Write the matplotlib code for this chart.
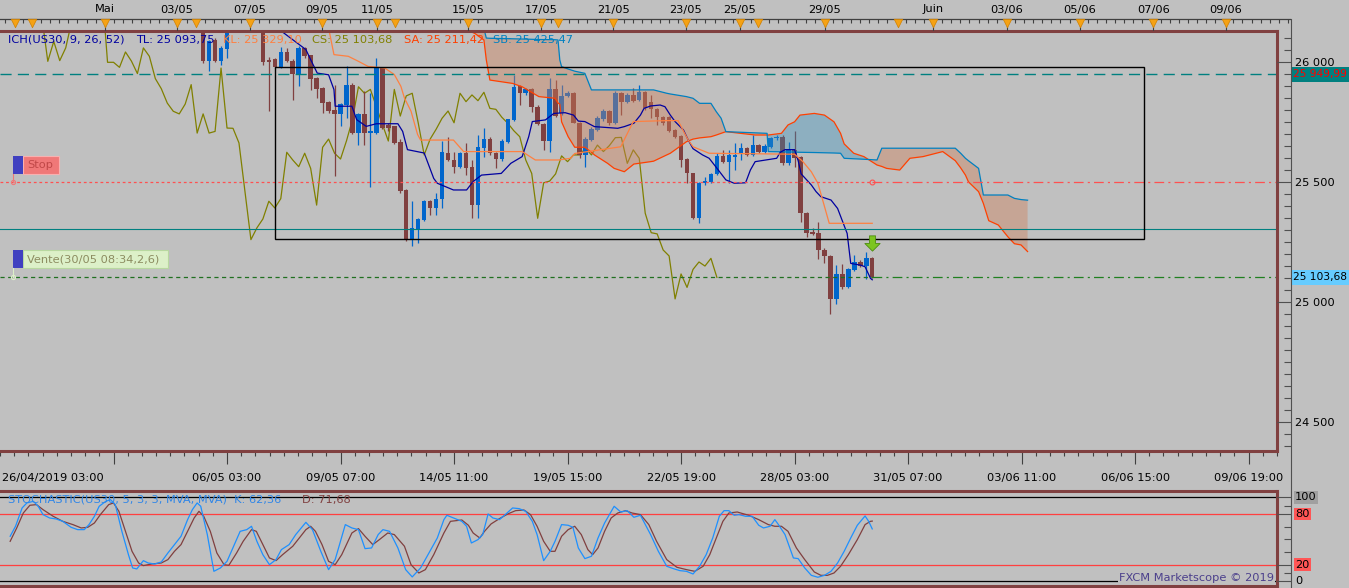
import numpy as np
import matplotlib.pyplot as plt
import matplotlib.transforms as mtransforms
from matplotlib.lines import Line2D
from matplotlib.patches import Rectangle
from matplotlib.path import Path

plt.rcParams['font.family'] = ['DejaVu Sans']
plt.rcParams['lines.scale_dashes'] = False

# US30, 4 hour candles. bar 0 = 06/05 03:00
first_bar = -5
opens = [26240, 26190, 26004, 26094, 26007, 26057, 26170, 26270, 26330, 26310,
         26390, 26330, 26010, 26014, 25979, 26045, 26007, 25953, 26060, 26029,
         25935, 25893, 25835, 25803, 25785, 25824, 25907, 25705, 25785, 25705,
         25705, 25976, 25740, 25733, 25668, 25467, 25261, 25305, 25344, 25421,
         25393, 25429, 25623, 25593, 25565, 25623, 25565, 25405, 25642, 25680,
         25621, 25597, 25669, 25760, 25901, 25871, 25887, 25815, 25742, 25672,
         25887, 25787, 25861, 25871, 25748, 25614, 25676, 25718, 25762, 25797,
         25748, 25871, 25836, 25864, 25843, 25876, 25836, 25804, 25773, 25771,
         25718, 25693, 25596, 25537, 25350, 25498, 25503, 25535, 25610, 25586,
         25605, 25621, 25642, 25614, 25655, 25628, 25648, 25683, 25687, 25579,
         25635, 25604, 25373, 25293, 25287, 25218, 25193, 25014, 25118, 25062,
         25135, 25168, 25151, 25183]
highs = [26260, 26200, 26092, 26102, 26070, 26190, 26290, 26350, 26380, 26420,
         26410, 26340, 26021, 26018, 26062, 26060, 26012, 26067, 26065, 26032,
         25940, 25895, 25840, 25907, 25830, 25983, 25915, 25790, 25879, 25872,
         26018, 25980, 25745, 25735, 25680, 25470, 25421, 25350, 25425, 25425,
         25455, 25671, 25690, 25628, 25625, 25662, 25593, 25697, 25725, 25690,
         25625, 25680, 25765, 25947, 25905, 25892, 25892, 25820, 25745, 25933,
         25926, 25905, 25880, 25875, 25752, 25690, 25730, 25775, 25805, 25802,
         25880, 25878, 25870, 25891, 25905, 25880, 25864, 25810, 25778, 25775,
         25722, 25698, 25600, 25540, 25503, 25523, 25540, 25621, 25635, 25635,
         25662, 25662, 25648, 25697, 25660, 25658, 25690, 25697, 25697, 25669,
         25715, 25610, 25378, 25308, 25336, 25225, 25198, 25155, 25160, 25142,
         25197, 25175, 25211, 25190]
lows = [26170, 25995, 25962, 26000, 25990, 26018, 26160, 26240, 26280, 26300,
        26300, 25990, 25796, 25975, 25975, 26000, 25844, 25900, 26020, 25886,
        25851, 25789, 25790, 25525, 25733, 25768, 25700, 25657, 25657, 25479,
        25700, 25720, 25715, 25660, 25455, 25255, 25233, 25247, 25340, 25365,
        25365, 25391, 25590, 25537, 25560, 25530, 25350, 25350, 25607, 25615,
        25558, 25590, 25665, 25755, 25822, 25865, 25794, 25738, 25635, 25628,
        25770, 25780, 25855, 25745, 25600, 25565, 25670, 25712, 25755, 25740,
        25742, 25780, 25830, 25835, 25838, 25800, 25766, 25739, 25740, 25710,
        25685, 25565, 25496, 25345, 25329, 25490, 25498, 25530, 25580, 25496,
        25551, 25593, 25608, 25610, 25622, 25622, 25642, 25678, 25573, 25574,
        25565, 25336, 25271, 25280, 25179, 25162, 24950, 24993, 25055, 25058,
        25130, 25145, 25096, 25100]
closes = [26190, 26004, 26087, 26007, 26060, 26170, 26270, 26330, 26310, 26390,
          26330, 26000, 26000, 25979, 26043, 26005, 25953, 26060, 26025, 25932,
          25890, 25830, 25796, 25785, 25826, 25907, 25705, 25785, 25705, 25712,
          25976, 25726, 25725, 25664, 25462, 25261, 25310, 25347, 25421, 25393,
          25432, 25625, 25593, 25565, 25621, 25558, 25405, 25646, 25680, 25621,
          25597, 25673, 25762, 25898, 25871, 25887, 25815, 25742, 25672, 25887,
          25776, 25860, 25871, 25748, 25614, 25680, 25721, 25767, 25797, 25748,
          25871, 25836, 25864, 25840, 25875, 25808, 25804, 25771, 25746, 25715,
          25690, 25593, 25537, 25350, 25498, 25505, 25535, 25610, 25586, 25614,
          25614, 25642, 25614, 25655, 25628, 25653, 25686, 25687, 25579, 25635,
          25600, 25371, 25290, 25285, 25218, 25193, 25014, 25118, 25062, 25137,
          25168, 25151, 25183, 25103.68]

# Ichimoku lines (bar, price)
tenkan_bar = [8, 9.3, 13.2, 14, 15.1, 17, 17.9, 18.1, 20.9, 21.7, 23.3, 25, 28.6, 29.4,
              30.2, 33, 34.6, 35.2, 37.9, 40.1, 41.2, 42.6, 45.9, 47.5, 49.4, 50.5,
              51.1, 53.3, 54.7, 56.6, 58, 58.8, 59.9, 61.5, 65.4, 66.5, 68.1, 69.2,
              69.8, 70.9, 72.5, 73.3, 74.2, 75, 76.4, 77.2, 78, 79.6, 80.7, 81.8,
              83.5, 84.9, 86.8, 87.6, 88.4, 92, 92.6, 93.4, 95, 95.6, 96.1, 97.8,
              98.6, 99.4, 101.1, 102.2, 103.8, 104.4, 106, 106.8, 107.7, 108]
tenkan_val = [26160, 26126, 26053, 26011, 25955, 25948, 25886, 25817, 25817, 25761,
              25733, 25744, 25744, 25712, 25636, 25622, 25516, 25496, 25468, 25468,
              25503, 25530, 25537, 25579, 25607, 25690, 25753, 25760, 25787, 25790,
              25780, 25755, 25753, 25732, 25725, 25732, 25746, 25780, 25808, 25818,
              25822, 25815, 25780, 25753, 25718, 25676, 25640, 25614, 25600, 25565,
              25510, 25496, 25498, 25551, 25586, 25600, 25625, 25636, 25636, 25590,
              25535, 25489, 25461, 25440, 25426, 25391, 25287, 25162, 25155, 25148,
              25100, 25093.75]
kijun_bar = [16, 17, 17.9, 20.3, 22, 23.6, 26.4, 28, 29.1, 29.7, 30.8, 31.9, 32.4,
             37.9, 39.6, 49.4, 51.6, 55.5, 57.5, 58.2, 65.9, 68, 73.6, 75.5, 76.3,
             77.2, 78, 80.7, 95, 96.4, 97.8, 98.9, 99.7, 100.8, 108]
kijun_val = [26170, 26143, 26032, 26025, 26004, 25983, 25976, 25949, 25900, 25851,
             25796, 25699, 25676, 25676, 25628, 25628, 25593, 25593, 25600, 25620,
             25648, 25753, 25757, 25757, 25718, 25676, 25648, 25621, 25617, 25586,
             25544, 25496, 25426, 25329.10, 25329.10]
cloud_bar = [38, 41.5, 43.0, 43.4, 44.0, 47.8, 49.4, 52.2, 54.9, 55.4,
             55.7, 56.0, 57.1, 58.2, 59.9, 61.0, 61.5, 63.7, 64.8, 66.5,
             68.1, 70.9, 71.4, 73.6, 74.2, 76.9, 78.0, 79.1, 81.0, 81.9,
             82.7, 83.5, 88.4, 90.4, 90.6, 92.8, 93.9, 95.0, 95.9, 98.3,
             100.0, 101.6, 102.7, 103.3, 104.9, 106.6, 108.8, 109.6, 110.4, 112.6,
             114.3, 116.5, 119.8, 121.9, 122.8, 123.6, 124.1, 125.8, 126.6, 127.5,
             129.1, 130.7, 131.8, 132.9, 134.0]
senkou_a = [26160, 26120, 26093, 26010, 25926, 25912, 25898, 25857, 25850, 25830,
            25826, 25752, 25690, 25646, 25646, 25625, 25614, 25579, 25558, 25544,
            25576, 25586, 25588, 25614, 25621, 25669, 25680, 25685, 25690, 25697,
            25704, 25711, 25697, 25697, 25697, 25704, 25739, 25752, 25780, 25787,
            25780, 25752, 25704, 25660, 25621, 25607, 25572, 25566, 25558, 25551,
            25600, 25607, 25628, 25590, 25560, 25530, 25502, 25461, 25412, 25340,
            25322, 25273, 25244, 25239, 25211.42]
senkou_b = [26200, 26180, 26140, 26101, 26100, 26098, 26097, 26095, 26094, 26093,
            26010, 25982, 25972, 25963, 25954, 25885, 25885, 25885, 25885, 25885,
            25885, 25885, 25885, 25871, 25868, 25857, 25850, 25829, 25829, 25794,
            25767, 25711, 25706, 25704, 25628, 25627, 25626, 25626, 25625, 25624,
            25623, 25622, 25621, 25600, 25598, 25596, 25593, 25642, 25642, 25642,
            25642, 25642, 25642, 25642, 25621, 25600, 25590, 25558, 25447, 25447,
            25447, 25447, 25433, 25428, 25425.47]

# Stochastic (5, 3, 3) (bar, value)
k_bar = [-36.3, -35.4, -34.3, -33.5, -32.4, -31.6, -30.8, -29.7, -28.6, -27.5,
         -26.1, -25.0, -23.9, -23.1, -22.2, -21.4, -20.3, -19.5, -18.7, -17.6,
         -16.5, -15.8, -15.1, -14.0, -13.2, -12.1, -11.0, -9.9, -8.8, -7.7,
         -6.6, -5.8, -5.0, -4.4, -3.3, -2.2, -1.1, 0.0, 1.1, 2.2,
         3.3, 4.1, 5.0, 6.0, 7.1, 8.2, 9.1, 10.4, 11.5, 13.2,
         14.3, 15.7, 17.0, 18.1, 19.8, 20.9, 22.0, 23.1, 24.2, 25.3,
         26.1, 27.2, 28.6, 29.9, 31.0, 32.4, 33.8, 35.2, 36.3, 36.8,
         37.9, 39.3, 40.1, 40.9, 42.0, 42.8, 43.7, 44.5, 45.6, 46.7,
         47.8, 48.9, 50.0, 51.1, 51.9, 53.0, 54.1, 54.9, 56.0, 57.1,
         57.9, 58.8, 59.9, 61.0, 62.1, 63.2, 64.8, 65.9, 67.0, 68.1,
         69.2, 70.9, 72.2, 73.6, 74.7, 75.8, 76.9, 78.0, 79.1, 80.2,
         81.3, 82.4, 83.2, 84.0, 84.9, 85.7, 86.8, 87.9, 89.0, 89.8,
         90.9, 91.7, 92.3, 93.4, 94.8, 95.6, 96.7, 97.8, 98.9, 100.0,
         101.1, 102.2, 103.3, 104.4, 105.5, 106.6, 106.8, 107.4, 108.0]
k_val = [53.6, 65.5, 87.3, 93.3, 95.2, 89.3, 79.4, 75.4, 74.2, 71.4,
         64.3, 61.5, 61.5, 67.5, 77.4, 89.3, 95.2, 97.2, 91.3, 59.5,
         31.7, 15.9, 14.7, 24.6, 21.8, 20.6, 23.0, 33.7, 43.7, 53.6,
         73.4, 85.3, 93.3, 89.3, 55.6, 11.9, 15.9, 23.8, 41.7, 59.5,
         61.5, 65.5, 47.6, 31.7, 19.8, 25.8, 37.7, 43.7, 55.6, 70.2,
         61.5, 35.7, 13.9, 25.8, 67.5, 63.5, 61.5, 38.9, 39.7, 55.6,
         61.5, 59.5, 39.7, 13.9, 5.2, 15.9, 33.7, 51.6, 73.4, 78.6,
         75.4, 71.4, 65.5, 45.6, 49.6, 55.6, 80.2, 75.4, 73.4, 80.2,
         87.3, 86.5, 83.3, 71.4, 55.6, 24.6, 35.7, 47.6, 67.5, 66.7,
         64.3, 39.7, 27.0, 29.8, 51.6, 69.4, 89.3, 82.5, 84.1, 76.2,
         78.6, 55.6, 35.7, 17.9, 15.1, 12.7, 11.9, 8.7, 17.9, 31.7,
         51.6, 77.4, 84.1, 84.1, 78.6, 79.4, 77.4, 77.4, 66.7, 63.5,
         65.5, 73.4, 67.5, 55.6, 27.8, 27.0, 15.9, 7.1, 4.8, 7.1,
         11.9, 21.8, 35.7, 51.6, 66.7, 76.2, 77.8, 71.4, 62.36]
d_bar = [-36.3, -35.2, -34.1, -33.0, -31.9, -30.8, -29.1, -27.5, -25.8, -24.4,
         -23.3, -22.2, -21.2, -19.8, -19.0, -18.1, -17.0, -15.9, -14.8, -14.0,
         -12.6, -11.0, -9.9, -8.8, -7.7, -6.6, -5.5, -4.7, -3.9, -2.8,
         -1.7, -0.5, 0.3, 1.6, 2.7, 4.1, 4.9, 6.0, 7.1, 8.2,
         9.3, 11.0, 12.1, 13.2, 14.0, 14.8, 15.9, 17.0, 18.1, 19.2,
         20.9, 22.0, 23.1, 24.4, 25.5, 26.9, 28.0, 29.7, 30.8, 32.1,
         33.2, 34.6, 36.3, 37.4, 39.3, 40.4, 41.2, 42.3, 43.1, 44.2,
         45.6, 47.0, 48.3, 49.7, 50.8, 51.9, 53.0, 54.1, 54.9, 56.0,
         57.1, 58.2, 59.3, 60.4, 61.2, 62.1, 63.2, 64.3, 65.4, 66.7,
         67.8, 69.2, 70.6, 71.9, 73.6, 75.3, 76.9, 78.3, 79.7, 80.8,
         81.9, 83.0, 84.0, 85.4, 87.3, 89.0, 90.6, 91.7, 92.8, 93.9,
         95.3, 96.7, 98.3, 99.4, 100.5, 101.6, 102.7, 104.0, 105.5, 106.8,
         107.7, 108.0]
d_val = [47.6, 63.5, 81.3, 90.5, 91.3, 85.3, 77.4, 71.4, 67.5, 63.5,
         64.3, 69.4, 79.4, 91.3, 93.3, 83.3, 59.5, 35.7, 21.8, 18.7,
         20.6, 21.8, 25.8, 35.7, 43.7, 59.5, 75.4, 83.3, 77.4, 59.5,
         33.7, 19.8, 19.0, 33.7, 47.6, 61.5, 59.5, 43.7, 27.8, 24.6,
         31.7, 41.7, 51.6, 61.5, 65.5, 59.5, 43.7, 23.8, 19.8, 31.7,
         57.5, 62.7, 53.6, 43.7, 49.6, 57.5, 55.6, 41.7, 19.8, 9.9,
         13.9, 31.7, 57.5, 71.4, 73.0, 66.7, 57.5, 51.6, 59.5, 68.3,
         74.6, 80.2, 84.1, 84.9, 79.4, 65.5, 47.6, 35.7, 35.7, 53.6,
         61.5, 65.5, 55.6, 37.7, 31.7, 39.7, 59.5, 75.4, 81.3, 84.1,
         81.3, 79.4, 67.5, 47.6, 25.8, 16.7, 13.9, 11.9, 17.9, 31.7,
         51.6, 71.4, 81.3, 82.5, 78.6, 73.4, 67.5, 65.5, 65.5, 59.5,
         39.7, 25.8, 11.1, 7.1, 7.1, 9.9, 17.9, 31.7, 49.6, 67.5,
         71.4, 71.68]

# horizontal levels and the drawn box
limit_level = 25949.99
stop_level = 25500
entry_level = 25103.68
support_level = 25304
box_bars = [8, 153.5]
box_prices = [25262, 25979]

# time axes
time_ticks = [-19, 0, 19, 38, 57, 76, 95, 114, 133, 152, 171]
time_labels = ['', '06/05 03:00', '09/05 07:00', '14/05 11:00', '19/05 15:00',
               '22/05 19:00', '28/05 03:00', '31/05 07:00', '03/06 11:00',
               '06/06 15:00', '09/06 19:00']
day_bar = [-19.0, -7.1, 4.9, 16.8, 25.9, 40.9, 52.9, 64.8, 76.8, 85.7, 99.7,
           117.5, 129.7, 141.7, 153.8, 165.8]
day_labels = ['Mai', '03/05', '07/05', '09/05', '11/05', '15/05', '17/05', '21/05',
              '23/05', '25/05', '29/05', 'Juin', '03/06', '05/06', '07/06', '09/06']
event_bar = [-33.8, -31.0, -19.0, -7.1, -4.0, 4.9, 16.8, 25.9, 28.8, 40.9, 52.9,
             55.7, 64.8, 76.8, 85.7, 88.7, 99.7, 111.7, 117.5, 129.7, 141.7,
             153.8, 165.8]
price_ticks = [24500, 25000, 25500, 26000]


def fmt(v, d=2):
    return f"{v:,.{d}f}".replace(',', ' ').replace('.', ',')


W, H = 1349, 588
fig = plt.figure(figsize=(W / 100, H / 100), dpi=100)
fig.patch.set_facecolor('#c0c0c0')
px = mtransforms.Affine2D().scale(1 / W, -1 / H).translate(0, 1) + fig.transFigure

X0, BW = 220.0, 6.068      # pixel of bar 0, pixels per bar
PY0, PPX = 62.3, 4.167     # pixel of 26 000, points per pixel


def bar_at(x):
    return (x - X0) / BW


def price_at(y):
    return 26000 - (y - PY0) * PPX


def y_of(price):
    return PY0 + (26000 - price) / PPX


def stoch_at(y):
    return (581.3 - y) / 0.84


def panel(l, t, r, b):
    a = fig.add_axes([l / W, 1 - b / H, (r - l) / W, (b - t) / H])
    a.patch.set_visible(False)
    return a


BROWN = '#804040'
BLUE = '#0066cc'

# ---------------- main price panel ----------------
ax = panel(0, 31, 1277, 451)
ax.set_xlim(bar_at(0), bar_at(1277))
ax.set_ylim(price_at(451), price_at(31))
for s in ax.spines.values():
    s.set_color(BROWN)
    s.set_linewidth(2.2)
    s.set_zorder(10)
ax.spines['left'].set_visible(False)
ax.tick_params(axis='y', left=False, labelleft=False)
ax.set_xticks(time_ticks)
ax.set_xticklabels(time_labels, fontsize=8.2)
ax.set_xticks(np.arange(time_ticks[0] - 19, 176, 19 / 8), minor=True)
ax.tick_params(axis='x', which='major', length=9, width=0.8, color='#404040', pad=7)
ax.tick_params(axis='x', which='minor', length=3.5, width=0.8, color='#404040')

bars = np.arange(first_bar, first_bar + len(closes))
o, h, l, c = (np.array(v, dtype=float) for v in (opens, highs, lows, closes))
col = np.where(c >= o, BLUE, BROWN)
ax.vlines(bars, l, h, colors=col, lw=0.9, zorder=3)
ax.bar(bars, np.maximum(np.abs(c - o), 3), bottom=np.minimum(o, c), width=0.75,
       color=col, lw=0, zorder=3)

# chikou span = close shifted back 26 bars
ax.plot(bars - 26, c, color='#808000', lw=0.9, zorder=2)

sa = np.array(senkou_a)
sb = np.array(senkou_b)
ax.fill_between(cloud_bar, sa, sb, where=sa >= sb, interpolate=True,
                color='#3090c0', alpha=0.35, lw=0, zorder=4)
ax.fill_between(cloud_bar, sa, sb, where=sa < sb, interpolate=True,
                color='#d0805a', alpha=0.42, lw=0, zorder=4)
ax.plot(cloud_bar, sa, color='#ff4000', lw=0.9, zorder=5)
ax.plot(cloud_bar, sb, color='#0080c0', lw=0.9, zorder=5)
ax.plot(tenkan_bar, tenkan_val, color='#0000a0', lw=0.9, zorder=5)
ax.plot(kijun_bar, kijun_val, color='#ff8040', lw=0.9, zorder=5)

xl = ax.get_xlim()
last = bars[-1]
ax.plot(xl, [limit_level] * 2, color='#008080', lw=1, dashes=(8, 4.5), zorder=6)
ax.plot(xl, [support_level] * 2, color='#008080', lw=0.8, zorder=6)
ax.plot([xl[0], last], [stop_level] * 2, color='#ff5050', lw=0.9, dashes=(2, 2), zorder=6)
ax.plot([last, xl[1]], [stop_level] * 2, color='#ff5050', lw=0.9,
        dashes=(7, 3, 1.5, 3), zorder=6)
ax.plot([last], [stop_level], 'o', ms=3.5, mfc='none', mec='#ff5050', mew=0.8, zorder=6)
ax.plot([xl[0], last], [entry_level] * 2, color='#207020', lw=0.9, dashes=(3, 2.5), zorder=6)
ax.plot([last, xl[1]], [entry_level] * 2, color='#208020', lw=0.9,
        dashes=(7, 3, 1.5, 3), zorder=6)
ax.add_patch(Rectangle((box_bars[0], box_prices[0]), box_bars[1] - box_bars[0],
                       box_prices[1] - box_prices[0], fill=False, ec='black', lw=1, zorder=6))

arrow = Path([(-0.2, 0.5), (0.2, 0.5), (0.2, 0.0), (0.5, 0.0), (0.0, -0.5),
              (-0.5, 0.0), (-0.2, 0.0), (-0.2, 0.5)],
             [Path.MOVETO] + [Path.LINETO] * 6 + [Path.CLOSEPOLY])
ax.plot([last], [h[-1] + 55], marker=arrow, ms=11, mfc='#7cc520', mec='#4c8c10',
        mew=0.6, zorder=7)

# indicator header
head = [(8, 'ICH(US30, 9, 26, 52)', '#0000a0'),
        (136, 'TL: ' + fmt(tenkan_val[-1]), '#0000a0'),
        (223, 'KL: ' + fmt(kijun_val[-1]), '#ff8040'),
        (312, 'CS: ' + fmt(closes[-1]), '#808000'),
        (404, 'SA: ' + fmt(senkou_a[-1]), '#ff4000'),
        (493, 'SB: ' + fmt(senkou_b[-1]), '#0080c0')]
for x, s, cc in head:
    fig.text(x, 39.5, s, transform=px, color=cc, fontsize=8.2, va='center', zorder=20)

# order tags on the left
for level, label, fc, ec, tc, width, gap in [
        (stop_level, 'Stop', '#f07878', '#f8b0b0', '#c04848', 36, 8),
        (entry_level, 'Vente(30/05 08:34,2,6)', '#dcf0c8', '#b8d8a0', '#8c8c60', 145, 9)]:
    yl = y_of(level)
    top = yl - gap - 18
    fig.add_artist(Line2D([12.7, 12.7], [top + 18, yl], transform=px, color=fc, lw=0.8))
    fig.add_artist(Line2D([12.7], [yl], transform=px, marker='o', ms=3, mfc='none',
                          mec=fc, mew=0.8))
    fig.add_artist(Rectangle((22.7, top), width, 18, transform=px, fc=fc, ec=ec, lw=0.8))
    fig.add_artist(Rectangle((12.7, top), 10, 18, transform=px, fc='#4040c0', ec='none'))
    fig.text(27, top + 9, label, transform=px, color=tc, fontsize=8.2, va='center')

# price scale
axp = panel(1277, 31, 1291, 451)
axp.set_ylim(ax.get_ylim())
axp.set_xticks([])
for s in axp.spines.values():
    s.set_visible(False)
axp.yaxis.tick_right()
axp.set_yticks(price_ticks)
axp.set_yticklabels([fmt(v, 0) for v in price_ticks], fontsize=8.2)
axp.set_yticks(np.arange(24400, 26150, 50), minor=True)
axp.tick_params(axis='y', which='major', direction='in', length=10, width=0.8,
                color='#505050', pad=3)
axp.tick_params(axis='y', which='minor', direction='in', length=5, width=0.8,
                color='#505050')
for level, fc, tc in [(limit_level, '#008080', '#ff0000'), (entry_level, '#66ccff', '#000000')]:
    yl = y_of(level)
    fig.add_artist(Rectangle((1292, yl - 7.5), 60, 15, transform=px, fc=fc, ec='none'))
    fig.text(1293, yl, fmt(level), transform=px, color=tc, fontsize=7.7, va='center')

# ---------------- top date ruler ----------------
axt = panel(0, 0, 1291, 31)
axt.set_xlim(bar_at(0), bar_at(1291))
axt.set_ylim(31, 0)
axt.axis('off')
axt.plot(axt.get_xlim(), [19, 19], color='#404040', lw=0.9)
axt.vlines(np.arange(-37, 177, 1.5), 19, 22.5, color='#404040', lw=0.8)
axt.vlines(day_bar, 19, 31, color='#404040', lw=0.8)
axt.scatter(event_bar, [23] * len(event_bar), marker='v', s=38, color='#f5a214',
            edgecolors='#d08000', linewidths=0.5, zorder=3)
for b, s in zip(day_bar, day_labels):
    axt.text(b, 9.5, s, ha='center', va='center', fontsize=8.2)

fig.text(2, 478, '26/04/2019 03:00', transform=px, fontsize=8.2, va='center')
fig.add_artist(Line2D([1291, 1291], [19, 588], transform=px, color='#505050', lw=0.8))

# ---------------- stochastic panel ----------------
axs = panel(0, 491, 1277, 586)
axs.set_xlim(xl)
axs.set_ylim(stoch_at(586), stoch_at(491))
axs.set_xticks([])
axs.set_yticks([])
for s in axs.spines.values():
    s.set_color(BROWN)
    s.set_linewidth(2.2)
    s.set_zorder(10)
axs.spines['left'].set_visible(False)
for v, cc in [(100, 'black'), (0, 'black'), (80, '#ff4040'), (20, '#ff4040')]:
    axs.axhline(v, color=cc, lw=0.9, zorder=1)
axs.plot(d_bar, d_val, color=BROWN, lw=0.9, zorder=3)
axs.plot(k_bar, k_val, color='#1e90ff', lw=0.9, zorder=3)
axs.text(0.006, 100 - 2.5, 'STOCHASTIC(US30, 5, 3, 3, MVA, MVA)  K: ' + fmt(k_val[-1]),
         transform=axs.get_yaxis_transform(), color='#2f86e8', fontsize=8.2, va='center')
fig.text(302, 500.5, 'D: ' + fmt(d_val[-1]), transform=px, color=BROWN,
         fontsize=8.2, va='center')
fig.text(1274, 578, 'FXCM Marketscope © 2019', transform=px, color='#4b3f8c',
         fontsize=8.2, va='center', ha='right',
         bbox=dict(boxstyle='square,pad=0.1', fc='#c0c0c0', ec='none'), zorder=20)

axq = panel(1277, 491, 1291, 586)
axq.set_ylim(axs.get_ylim())
axq.set_xticks([])
for s in axq.spines.values():
    s.set_visible(False)
axq.yaxis.tick_right()
axq.set_yticks([0, 20, 80, 100])
axq.set_yticklabels([])
axq.set_yticks([10, 35, 50, 65, 90], minor=True)
axq.tick_params(axis='y', which='major', direction='in', length=10, width=0.8, color='#505050')
axq.tick_params(axis='y', which='minor', direction='in', length=5, width=0.8, color='#505050')
for v, fc in [(100, '#a0a0a0'), (80, '#ff5555'), (20, '#ff5555'), (0, 'none')]:
    axq.text(1.3, v, str(v), transform=axq.get_yaxis_transform(), fontsize=8.2,
             va='center', ha='left',
             bbox=dict(boxstyle='square,pad=0.12', fc=fc, ec='none'))

fig.savefig('out.png', dpi=100, facecolor=fig.get_facecolor())
